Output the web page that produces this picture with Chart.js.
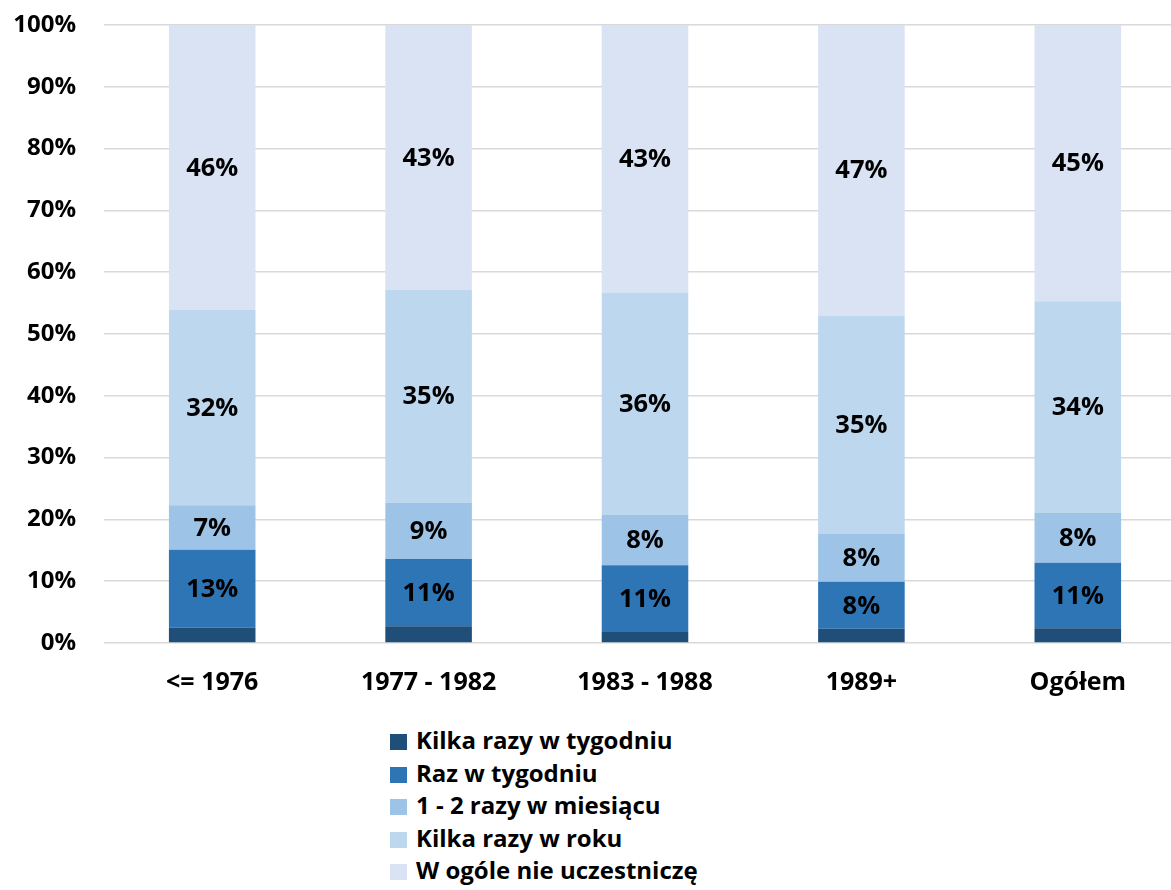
<!DOCTYPE html>
<html>
<head>
<meta charset="utf-8">
<script src="https://cdn.jsdelivr.net/npm/chart.js@4"></script>
<style>
  html, body { margin: 0; padding: 0; background: #fff; overflow: hidden; }
  #wrap { position: absolute; left: 0; top: 0; width: 1186px; height: 719px; }
  #legendList { position: absolute; left: 390px; top: 724px; margin: 0; padding: 0; list-style: none;
    font-family: "Open Sans", sans-serif; font-weight: bold; font-size: 24px; color: #000; }
  #legendList li { height: 32.6px; line-height: 32px; white-space: nowrap; }
  #legendList span { display: inline-block; width: 17px; height: 16px; margin-right: 9px; vertical-align: -1px; }
</style>
</head>
<body>
<div id="wrap"><canvas id="ankietaChart"></canvas></div>
<ul id="legendList"></ul>
<script>
// kategorie (rok urodzenia)
const kategorie = ['<= 1976', '1977 - 1982', '1983 - 1988', '1989+', 'Ogółem'];
const serie = ['Kilka razy w tygodniu', 'Raz w tygodniu', '1 - 2 razy w miesiącu', 'Kilka razy w roku', 'W ogóle nie uczestniczę'];
const kolory = ['#1F4E79', '#2E75B6', '#9DC3E6', '#BDD7EE', '#DAE3F3'];

// wartosci w %
const kilkaRazyTydzien = [2.5, 2.7, 1.8, 2.3, 2.4];
const razTydzien = [12.6, 10.9, 10.8, 7.6, 10.6];
const razyMiesiac = [7.2, 9.1, 8.1, 7.8, 8.1];
const kilkaRazyRok = [31.6, 34.5, 36.0, 35.3, 34.2];
const wOgoleNie = [46.1, 42.8, 43.3, 47.0, 44.7];

const osY = [0, 10, 20, 30, 40, 50, 60, 70, 80, 90, 100];

const wartosci = [kilkaRazyTydzien, razTydzien, razyMiesiac, kilkaRazyRok, wOgoleNie];
const font = 'Open Sans';

// etykiety na slupkach (bez najnizszej serii)
const etykiety = {
  id: 'etykiety',
  afterDatasetsDraw(chart) {
    const ctx = chart.ctx;
    ctx.save();
    ctx.font = 'bold 25.5px "' + font + '"';
    ctx.fillStyle = '#000';
    ctx.textAlign = 'center';
    ctx.textBaseline = 'middle';
    chart.data.datasets.forEach((ds, i) => {
      if (i === 0) return;
      chart.getDatasetMeta(i).data.forEach((bar, j) => {
        const p = bar.getCenterPoint();
        ctx.fillText(Math.round(ds.data[j]) + '%', p.x, p.y + 1);
      });
    });
    ctx.restore();
  }
};

const ctx = document.getElementById('ankietaChart').getContext('2d');
new Chart(ctx, {
  type: 'bar',
  data: {
    labels: kategorie,
    datasets: serie.map((s, i) => ({
      label: s,
      data: wartosci[i],
      backgroundColor: kolory[i],
      borderWidth: 0,
      barPercentage: 0.4,
      categoryPercentage: 1
    }))
  },
  options: {
    responsive: true,
    maintainAspectRatio: false,
    animation: false,
    layout: { padding: { top: 25, right: 0, bottom: 4, left: 0 } },
    plugins: {
      legend: { display: false },
      tooltip: { enabled: false }
    },
    scales: {
      x: {
        stacked: true,
        grid: { display: false },
        border: { display: false },
        ticks: { color: '#000', padding: 17, font: { family: font, size: 25, weight: 'bold' } }
      },
      y: {
        stacked: true,
        min: 0,
        max: 100,
        afterFit(scale) {
          scale.width = 104;
          scale.paddingTop = 0;
          scale.paddingBottom = 0;
        },
        afterBuildTicks(scale) { scale.ticks = osY.map(v => ({ value: v })); },
        grid: { color: '#D9D9D9', lineWidth: 1.5, drawTicks: false },
        border: { display: false },
        ticks: {
          color: '#000',
          padding: 28,
          font: { family: font, size: 24, weight: 'bold' },
          callback: v => v + '%'
        }
      }
    }
  },
  plugins: [etykiety]
});

// legenda recznie
const legendList = document.getElementById('legendList');
serie.forEach((s, i) => {
  const li = document.createElement('li');
  li.innerHTML = `<span style="background-color: ${kolory[i]};"></span>${s}`;
  legendList.appendChild(li);
});
</script>
</body>
</html>
